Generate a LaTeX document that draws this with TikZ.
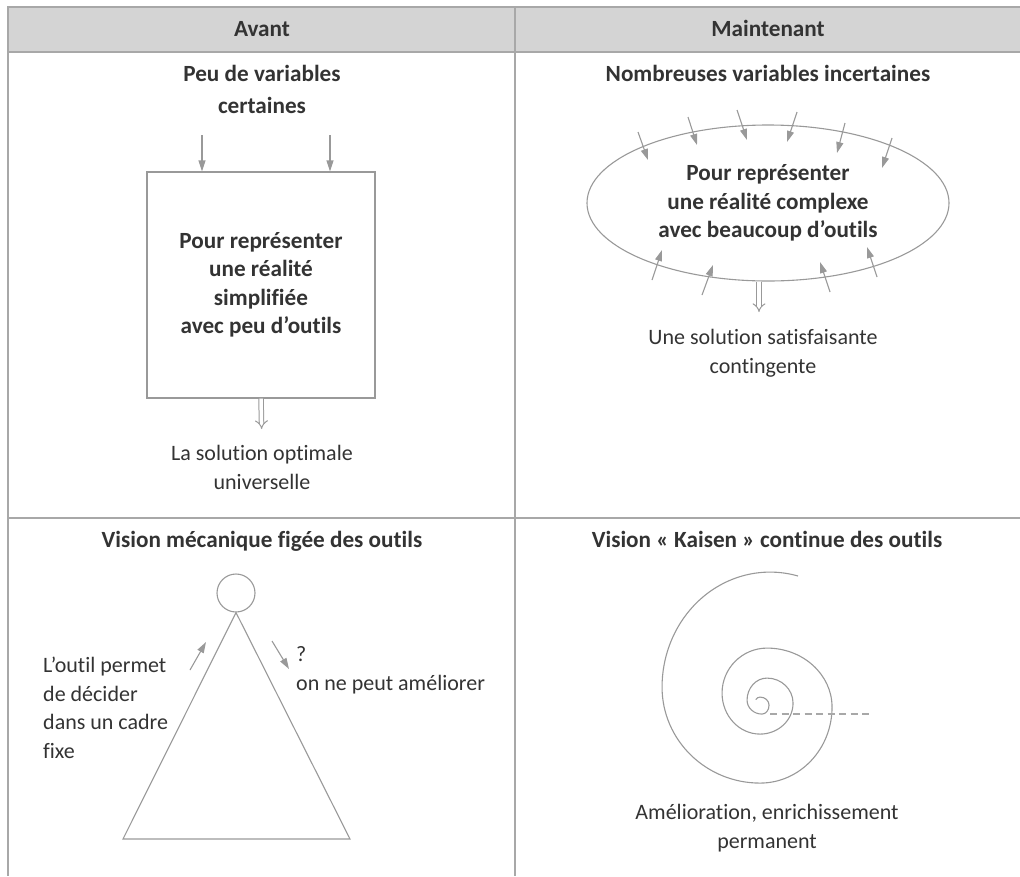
\documentclass[tikz,border=0pt]{standalone}
\usepackage{fontspec}
\setmainfont{Carlito}[Ligatures=NoCommon]
\usetikzlibrary{arrows.meta,shapes.geometric}
\definecolor{txtgray}{HTML}{333333}
\definecolor{linegray}{HTML}{999999}
\definecolor{rulegray}{HTML}{A8A8A8}
\definecolor{headgray}{HTML}{D4D4D4}

\begin{document}
\begin{tikzpicture}[x={(1pt,0pt)},y={(0pt,-1pt)},
  every node/.style={inner sep=0pt,text=txtgray,font=\fontsize{22}{28.5}\selectfont},
  title/.style={font=\fontsize{23.2}{28.5}\selectfont\bfseries},
  rule/.style={draw=rulegray,line width=2pt},
  line/.style={draw=linegray,line width=1.1pt},
  small arrow/.style={line,-{Triangle[length=11pt,width=7pt]}},
  dbl arrow/.style={draw=linegray,line width=1pt,double=white,double distance=3.5pt,
    -{Implies[length=7pt,width=14pt]}}]
  \useasboundingbox (0,0) rectangle (1020,876);
  % table
  \fill[headgray] (8,7) rectangle (1020,52);
  \draw[rule] (1020,7) -- (8,7) -- (8,876);
  \draw[rule] (8,52) -- (1020,52);
  \draw[rule] (515,7) -- (515,876);
  \draw[rule] (8,518) -- (1020,518);
  \node[title,anchor=base] (avant) at (262,36.5) {Avant};
  \node[title,anchor=base] (maint) at (768,36.5) {Maintenant};
  % avant: the box
  \node[title,anchor=base,align=center] (peu) at (262,113) {Peu de variables\\[3.5pt]certaines};
  \node[title,line,align=center,minimum width=228,minimum height=226] (box) at (261,285)
    {Pour représenter\\une réalité\\simplifiée\\avec peu d’outils};
  \coordinate (in1) at (202,135);
  \coordinate (in2) at (330,135);
  \draw[small arrow] (in1) -- (in1 |- box.north);
  \draw[small arrow] (in2) -- (in2 |- box.north);
  \node[anchor=base,align=center] (optim) at (262,489) {La solution optimale\\universelle};
  \draw[dbl arrow,shorten >=16pt] (box.south) -- (optim.north);
  % maintenant: the ellipse
  \node[title,anchor=base] (nomb) at (768,81) {Nombreuses variables incertaines};
  \node[title,line,ellipse,align=center,minimum width=362,minimum height=156] (ell) at (768,203)
    {Pour représenter\\une réalité complexe\\avec beaucoup d’outils};
  \foreach \xa/\ya/\xb/\yb in {638/132/648/160,688/117/697/145,737/110/747/140,
      797/112/787/142,845/123/837/153,892/138/882/168,
      652/280/662/250,702/295/713/265,830/292/820/262,877/277/867/247}
    \draw[small arrow] (\xa,\ya) -- (\xb,\yb);
  \node[anchor=base,align=center] (satis) at (763,373) {Une solution satisfaisante\\contingente};
  \draw[dbl arrow,shorten >=17pt] ([xshift=-9pt]ell.south) -- ([xshift=-4pt]satis.north);
  % bottom left: triangle
  \node[title,anchor=base] (meca) at (262,547) {Vision mécanique figée des outils};
  \node[line,circle,minimum size=38] (tete) at (236,593) {};
  \draw[line] (tete.south) -- (123,839) -- (350,839) -- cycle;
  \draw[small arrow] (190,670) -- (206,642);
  \draw[small arrow] (272,641) -- (289,669);
  \node[anchor=base west,align=left] (outil) at (43,758) {L’outil permet\\de décider\\dans un cadre\\fixe};
  \node[anchor=base west,align=left] (fige) at (296,690) {?\\on ne peut améliorer};
  % bottom right: spiral
  \node[title,anchor=base] (kaisen) at (767,547) {Vision « Kaisen » continue des outils};
  \draw[line] (798,576) \foreach \sa/\ea/\rx/\ry in {-75/-180/108/115,-180/-270/98/96,
      -270/-360/72/76,-360/-450/65/59,-450/-540/45/45,-540/-630/38/41,-630/-720/33/31,
      -720/-810/26/25,-810/-900/20/22,-900/-990/15/14,-990/-1080/7/9,-1080/-1170/9/8,
      -1170/-1230/5/5}
    {arc[start angle=\sa,end angle=\ea,x radius=\rx,y radius=\ry]};
  \draw[draw=rulegray,line width=1.4pt,dash pattern=on 7pt off 4.5pt] (770,714) -- (873,714);
  \node[anchor=base,align=center] (perm) at (767,848) {Amélioration, enrichissement\\permanent};
\end{tikzpicture}
\end{document}
